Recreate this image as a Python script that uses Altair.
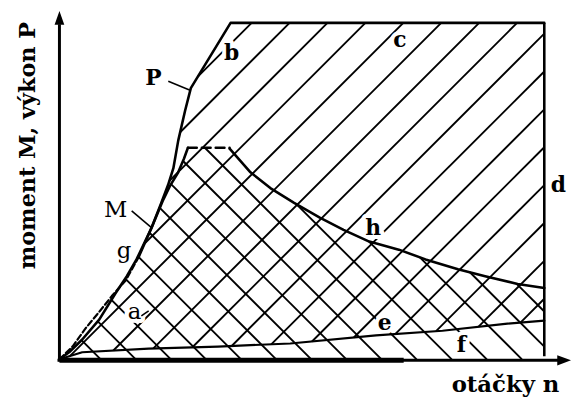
import altair as alt
import pandas as pd

# ---- curves (n = speed, % of max; value = % of max) ----
g_n = [0, 2.7, 5.5, 8.2, 10.8, 13.7, 16.3]
g_val = [0, 3.8, 9.4, 14.1, 18.8, 23.5, 30.3]

P_n = [16.3, 19.0, 21.0, 22.4, 23.5, 24.5, 25.9, 27.1, 35.3, 100]
P_val = [30.3, 39.1, 46.5, 51.8, 56.8, 65.0, 73.8, 80.6, 100, 100]

M_n = [0, 2.0, 4.7, 8.2, 11.6, 13.9, 15.9, 19.0, 21.4, 22.9, 24.5, 25.7, 26.5]
M_val = [0, 2.1, 5.9, 11.8, 19.7, 24.7, 29.7, 39.1, 47.4, 51.8, 55.6, 59.7, 62.9]

Mtop_n = [26.5, 35.1]
Mtop_val = [62.9, 62.9]

h_n = [35.1, 39.4, 43.5, 48.4, 53.7, 58.6, 63.9, 70.0, 75.5, 82.2, 87.8, 94.5, 100]
h_val = [62.6, 55.6, 50.9, 46.5, 42.1, 38.5, 35.0, 32.6, 29.7, 26.8, 24.7, 22.4, 21.2]

e_n = [0, 4.7, 18.4, 32.7, 47.6, 65.3, 79.0, 92.4, 100]
e_val = [0, 2.1, 3.2, 3.8, 4.7, 7.1, 8.5, 10.6, 11.5]

d_n = 100
d_low, d_high = 0.9, 100

labels = ["P", "b", "c", "d", "M", "g", "a", "h", "e", "f"]
label_n = [19.4, 35.5, 70.2, 102.9, 11.6, 13.3, 15.5, 64.7, 67.1, 82.9]
label_v = [83.5, 90.9, 95.0, 51.8, 44.4, 32.1, 14.1, 39.1, 10.9, 4.1]
label_bold = [True, True, True, True, False, False, False, True, True, True]
label_halo = [False, True, True, False, False, False, True, True, True, True]

y_title = "moment M, výkon P"
x_title = "otáčky n"

# ---- scales ----
X = alt.Scale(domain=[-10.61, 105.51], nice=False, zero=False)
Y = alt.Scale(domain=[-10.59, 103.82], nice=False, zero=False)
FONT = "DejaVu Serif"


def xe(f="x"):
    return alt.X(f + ":Q", scale=X, axis=None)


def ye(f="y"):
    return alt.Y(f + ":Q", scale=Y, axis=None)


def curve(ns, vs, width=2.5, dash=None):
    df = pd.DataFrame({"x": ns, "y": vs, "i": list(range(len(ns)))})
    kw = dict(color="black", strokeWidth=width, strokeCap="round", strokeJoin="round")
    if dash:
        kw["strokeDash"] = dash
    return alt.Chart(df).mark_line(**kw).encode(x=xe(), y=ye(), order="i:Q")


def segs_chart(rows, width):
    df = pd.DataFrame(rows)
    return alt.Chart(df).mark_rule(color="black", strokeWidth=width).encode(
        x=xe(), y=ye(), x2="x2:Q", y2="y2:Q")


# ---- hatch regions ----
poly_fwd = list(zip(g_n, g_val)) + list(zip(P_n[1:], P_val[1:])) + [(100, e_val[-1])] + \
    list(zip(e_n[::-1], e_val[::-1]))[1:-1]
poly_back = list(zip(M_n, M_val)) + [(Mtop_n[1], Mtop_val[1])] + list(zip(h_n, h_val)) + \
    [(100, 0)]

SLOPE = 1.44


def clip_lines(poly, slope, intercepts):
    out = []
    n = len(poly)
    for x0 in intercepts:
        pts = []
        for i in range(n):
            (ax, ay), (bx, by) = poly[i], poly[(i + 1) % n]
            fa = ay - slope * (ax - x0)
            fb = by - slope * (bx - x0)
            if (fa > 0) != (fb > 0):
                t = fa / (fa - fb)
                pts.append((ax + t * (bx - ax), ay + t * (by - ay)))
        pts.sort()
        for j in range(0, len(pts) - 1, 2):
            out.append(dict(x=pts[j][0], y=pts[j][1], x2=pts[j + 1][0], y2=pts[j + 1][1]))
    return out


fwd = clip_lines(poly_fwd, SLOPE, [-14.16 + 7.82 * k for k in range(-12, 16)])
back = clip_lines(poly_back, -SLOPE, [73.67 + 7.24 * k for k in range(-12, 16)])

layers = []
layers.append(segs_chart(fwd, 1.9))
layers.append(segs_chart(back, 1.9))

# label halos (gaps in hatching)
lab_df = pd.DataFrame({"x": label_n, "y": label_v, "t": labels,
                       "bold": label_bold, "halo": label_halo})
halo_df = lab_df[lab_df["halo"]]
layers.append(alt.Chart(halo_df).mark_text(font=FONT, fontSize=22, fontWeight="bold",
                                           color="white", stroke="white", strokeWidth=8,
                                           strokeJoin="round").encode(x=xe(), y=ye(), text="t:N"))

# outlines
layers.append(curve(g_n, g_val, 2.2, [6, 3]))
layers.append(curve(P_n, P_val, 2.6))
layers.append(curve(M_n, M_val, 2.6))
layers.append(curve(Mtop_n, Mtop_val, 2.4, [9, 5]))
layers.append(curve(h_n, h_val, 2.6))
layers.append(curve(e_n, e_val, 2.2))
layers.append(alt.Chart(pd.DataFrame({"x": [d_n], "y": [d_low], "y2": [d_high]})).mark_rule(
    color="black", strokeWidth=2.6).encode(x=xe(), y=ye(), y2="y2:Q"))

# pointer lines
ptr = [dict(x=22.45, y=82.65, x2=26.94, y2=80.0),
       dict(x=14.9, y=44.1, x2=18.98, y2=39.12),
       dict(x=16.9, y=12.9, x2=18.4, y2=14.4)]
layers.append(segs_chart(ptr, 1.6))

# axes
axes = [dict(x=0, y=-0.6, x2=0, y2=99.6),
        dict(x=-0.4, y=-0.3, x2=103.0, y2=-0.3)]
layers.append(segs_chart(axes, 3))
layers.append(segs_chart([dict(x=0, y=-0.3, x2=71.0, y2=-0.3)], 5))
arrow_up = pd.DataFrame({"x": [0], "y": [101.5]})
layers.append(alt.Chart(arrow_up).mark_point(shape="M0,-1L0.7,1L-0.7,1Z", size=196, filled=True,
                                             color="black", opacity=1).encode(x=xe(), y=ye()))
arrow_right = pd.DataFrame({"x": [104.1], "y": [-0.3]})
layers.append(alt.Chart(arrow_right).mark_point(shape="M1,0L-1,-0.75L-1,0.75Z", size=196,
                                                filled=True, color="black", opacity=1).encode(
    x=xe(), y=ye()))

# labels
for bold in (True, False):
    sub = lab_df[lab_df["bold"] == bold]
    layers.append(alt.Chart(sub).mark_text(font=FONT, fontSize=22 if bold else 23,
                                           fontWeight="bold" if bold else "normal",
                                           color="black").encode(x=xe(), y=ye(), text="t:N"))

# axis titles
layers.append(alt.Chart(pd.DataFrame({"x": [-6.4], "y": [63.5], "t": [y_title]})).mark_text(
    font=FONT, fontSize=22.5, fontWeight="bold", angle=270, color="black").encode(
    x=xe(), y=ye(), text="t:N"))
layers.append(alt.Chart(pd.DataFrame({"x": [92.0], "y": [-9.7], "t": [x_title]})).mark_text(
    font=FONT, fontSize=23, fontWeight="bold", baseline="alphabetic", color="black").encode(
    x=xe(), y=ye(), text="t:N"))

chart = alt.layer(*layers).properties(
    width=569, height=389, padding=0,
    autosize=alt.AutoSizeParams(type="none"),
    background="white",
).configure_view(stroke=None)

chart.save("out.html", embed_options={"renderer": "svg", "actions": False})
